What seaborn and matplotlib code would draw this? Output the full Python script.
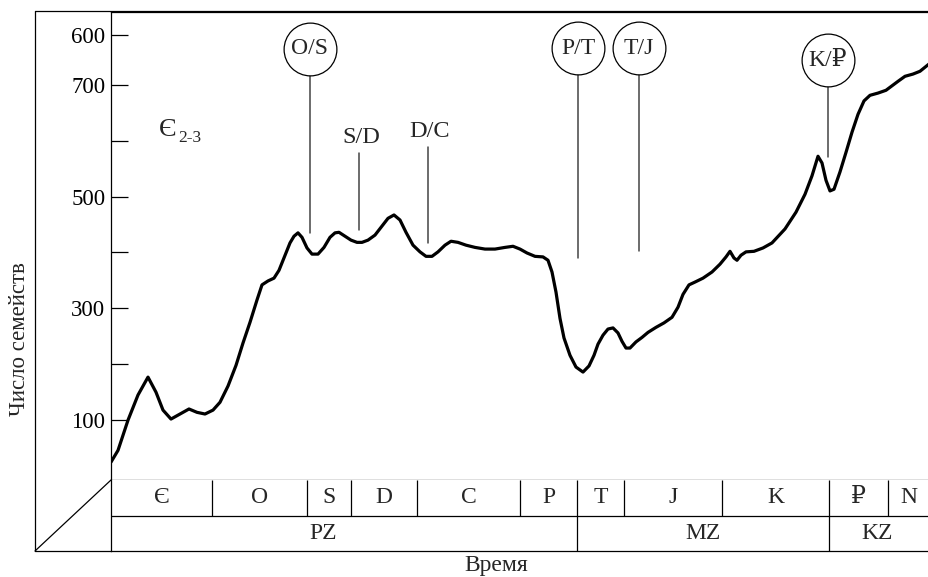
import matplotlib
matplotlib.use("Agg")
import matplotlib.pyplot as plt
from matplotlib.lines import Line2D
import seaborn as sns
import pandas as pd


##################################################
# Data (x = time axis units, y = number of families)
##################################################

time_x = [0, 7, 17, 27, 37, 45, 52, 60, 69, 78, 86, 94, 102, 109, 117, 125,
          132, 139, 146, 151, 157, 163, 168, 172, 176, 179, 183, 187, 191, 196,
          201, 207, 213, 219, 224, 228, 234, 240, 246, 251, 257, 264, 271, 277,
          283, 289, 295, 302, 309, 315, 321, 327, 334, 340, 347, 355, 364, 374,
          384, 394, 402, 409, 416, 424, 432, 437, 441, 445, 449, 453, 459, 465,
          472, 478, 483, 487, 492, 497, 502, 507, 511, 515, 519, 525, 531, 537,
          545, 553, 561, 567, 572, 578, 584, 592, 601, 609, 615, 619, 623, 626,
          630, 635, 643, 652, 661, 674, 685, 694, 701, 707, 711, 715, 719, 723,
          729, 735, 741, 747, 753, 759, 767, 775, 781, 787, 794, 802, 809, 818]

families = [25, 46, 100, 145, 177, 150, 118, 102, 111, 120, 114, 111, 118, 132,
            161, 198, 238, 275, 315, 342, 349, 354, 368, 386, 404, 417, 429, 435,
            427, 408, 397, 397, 409, 427, 435, 436, 429, 422, 418, 418, 422, 431,
            447, 461, 467, 458, 436, 413, 401, 393, 393, 401, 413, 420, 418, 413,
            409, 406, 406, 409, 411, 406, 399, 393, 392, 386, 365, 329, 282, 247,
            216, 195, 186, 197, 216, 236, 252, 263, 265, 256, 241, 229, 229, 240,
            248, 257, 266, 274, 284, 302, 325, 342, 347, 354, 365, 379, 392, 402,
            390, 386, 395, 401, 402, 408, 417, 442, 472, 504, 537, 572, 560, 529,
            510, 513, 544, 579, 615, 647, 671, 681, 685, 690, 698, 706, 715, 719,
            724, 737]

# geological periods and eras
period_labels = ["Є", "O", "S", "D", "C", "P", "T", "J", "K", "₽", "N"]
period_bounds = [0, 101, 196, 240, 306, 409, 466, 513, 611, 718, 777, 818]
era_labels = ["PZ", "MZ", "KZ"]
era_bounds = [0, 466, 718, 818]
era_label_x = [212, 592, 766]

# extinction events
circled_events = ["O/S", "P/T", "T/J", "K/₽"]
circled_x = [199, 467, 528, 717]
circled_top = [764, 765, 765, 744]
circled_bottom = [435, 390, 402, 571]

plain_events = ["S/D", "D/C"]
plain_x = [248, 317]
plain_label_y = [606, 617]
plain_top = [578, 588]
plain_bottom = [440, 417]

# y axis ticks (labels as printed in the original)
y_ticks = [100, 200, 300, 400, 500, 600, 700, 789]
y_tick_labels = ["100", "", "300", "", "500", "", "700", "600"]


##################################################
# Style
##################################################

sns.set_theme(style="white")
plt.rcParams["font.family"] = ["Liberation Serif", "DejaVu Serif", "DejaVu Sans"]
plt.rcParams["axes.linewidth"] = 0.9

W, H = 929, 577
fig = plt.figure(figsize=(W / 100, H / 100), dpi=100)


def fx(px):
    return px / W


def fy(py):
    return 1 - py / H


##################################################
# Main chart
##################################################

ax = fig.add_axes([fx(111), fy(480), fx(929) - fx(111), fy(12) - fy(480)])

df = pd.DataFrame({"time": time_x, "families": families})
sns.lineplot(data=df, x="time", y="families", ax=ax, color="black",
             linewidth=2.3, estimator=None, sort=False)

ax.set_xlim(0, 818)
ax.set_ylim(-7, 830)
ax.set_xticks([])
ax.set_yticks(y_ticks)
ax.set_yticklabels(y_tick_labels, fontsize=16.5)
ax.tick_params(axis="y", direction="in", length=12, width=0.9, pad=4,
               left=True, colors="black")
ax.set_xlabel("")
ax.set_ylabel("")
for side in ["left", "top", "bottom"]:
    ax.spines[side].set_color("black")
ax.spines["right"].set_visible(False)

# circled event labels
for name, x, top, bottom in zip(circled_events, circled_x, circled_top, circled_bottom):
    ax.plot([x, x], [top, bottom], color="#444444", linewidth=1.1, zorder=2)
    ax.plot([x], [top], marker="o", markersize=38, markerfacecolor="white",
            markeredgecolor="black", markeredgewidth=0.9, zorder=3, clip_on=False)
    ax.text(x, top, name, ha="center", va="center", fontsize=17, zorder=4)

# plain event labels
for name, x, ly, top, bottom in zip(plain_events, plain_x, plain_label_y, plain_top, plain_bottom):
    ax.plot([x, x], [top, bottom], color="#444444", linewidth=1.1, zorder=2)
    ax.text(x + 2, ly, name, ha="center", va="center", fontsize=17.5)

# Cambrian label
ax.text(57, 619, "Є", ha="center", va="center", fontsize=19)
ax.text(67, 604, "2-3", ha="left", va="center", fontsize=12.5)


##################################################
# Time scale table
##################################################

tab = fig.add_axes([fx(111), fy(551), fx(929) - fx(111), fy(480) - fy(551)])
tab.set_xlim(0, 818)
tab.set_ylim(0, 2)
tab.set_xticks([])
tab.set_yticks([])
for side in ["left", "bottom"]:
    tab.spines[side].set_color("black")
tab.spines["top"].set_visible(False)
tab.spines["right"].set_visible(False)
tab.axhline(1, color="black", linewidth=0.9)

tab.vlines(period_bounds[1:-1], 1, 2, color="black", linewidth=0.9)
tab.vlines(era_bounds[1:-1], 0, 1, color="black", linewidth=0.9)

for i, name in enumerate(period_labels):
    cx = (period_bounds[i] + period_bounds[i + 1]) / 2
    tab.text(cx, 1.5, name, ha="center", va="center", fontsize=17)

for name, cx in zip(era_labels, era_label_x):
    tab.text(cx, 0.5, name, ha="center", va="center", fontsize=17)


##################################################
# Frame, axis titles
##################################################

frame = dict(color="black", linewidth=0.9, transform=fig.transFigure)
fig.add_artist(Line2D([fx(35), fx(35)], [fy(551), fy(11)], **frame))
fig.add_artist(Line2D([fx(35), fx(929)], [fy(11), fy(11)], **frame))
fig.add_artist(Line2D([fx(35), fx(111)], [fy(551), fy(551)], **frame))
fig.add_artist(Line2D([fx(35), fx(111)], [fy(551), fy(480)], **frame))

fig.text(fx(20), fy(339), "Число семейств", rotation=90, ha="center",
         va="center", fontsize=16.5)
fig.text(fx(496), fy(566), "Время", ha="center", va="center", fontsize=17)

fig.savefig("out.png", dpi=100)
